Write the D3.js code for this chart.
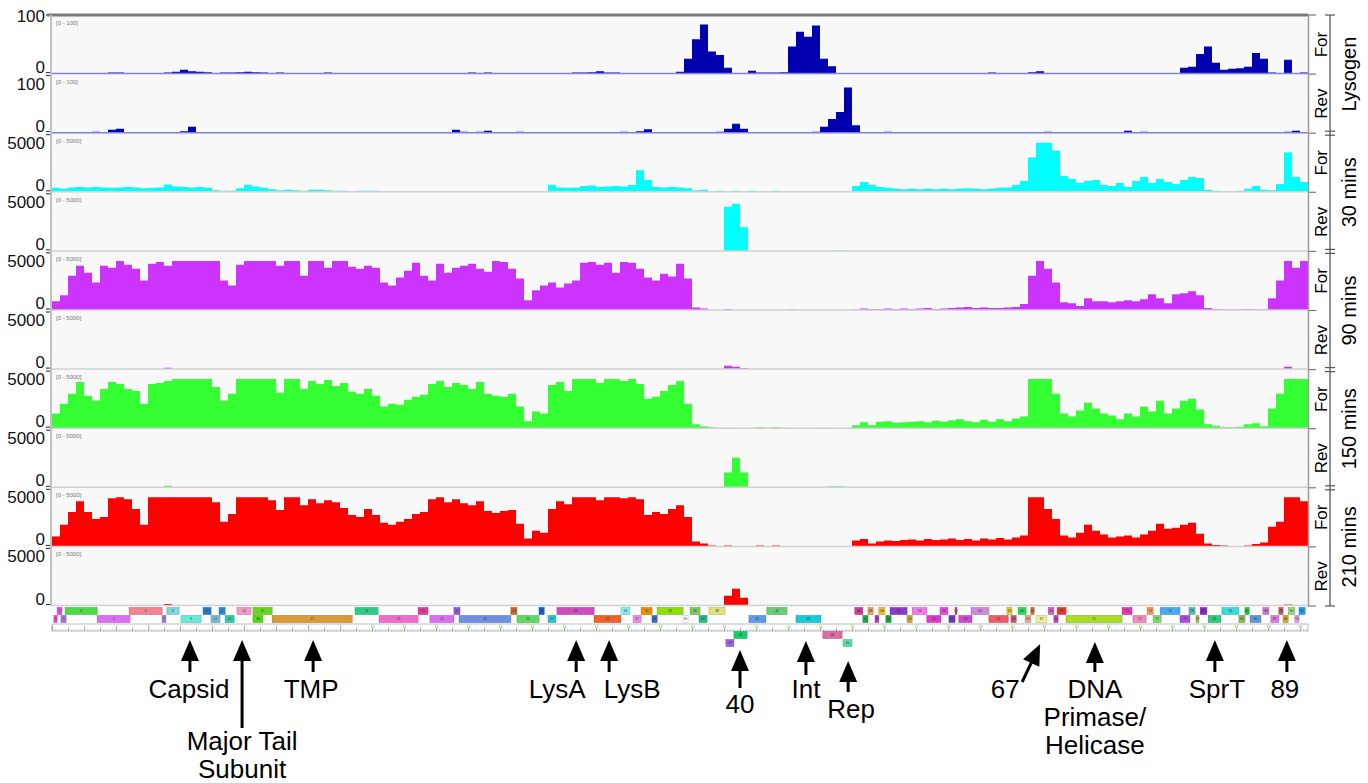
<!DOCTYPE html>
<html>
<head>
<meta charset="utf-8">
<script src="https://cdn.jsdelivr.net/npm/d3@7"></script>
<style>
  body { margin: 0; background: #ffffff; }
  svg { display: block; font-family: "Liberation Sans", Arial, sans-serif; }
</style>
</head>
<body>
<svg id="chart" width="1368" height="783"></svg>
<script>
// ---- data ----
const binKb = 0.25;      // coverage bin size
const genomeKb = 39.25;  // 157 bins

const trackStrand = ['For', 'Rev', 'For', 'Rev', 'For', 'Rev', 'For', 'Rev', 'For', 'Rev'];
const groupNames = ['Lysogen', '30 mins', '90 mins', '150 mins', '210 mins'];
const trackMax = [100, 100, 5000, 5000, 5000, 5000, 5000, 5000, 5000, 5000];

// sparse tracks: [bin, value]
const lysogenFor = [[5,1],[7,2],[8,2],[9,1],[12,1],[13,1],[14,2],[15,4],[16,8],[17,5],[18,4],[19,3],
  [21,2],[22,2],[23,3],[24,4],[25,3],[26,2],[28,2],[29,1],[30,1],[31,1],[33,1],[34,2],[35,1],
  [52,2],[53,1],[54,2],[55,1],[65,2],[66,2],[67,3],[68,5],[69,2],[70,2],[71,1],
  [78,4],[79,30],[80,70],[81,100],[82,45],[83,38],[84,12],[86,1],[87,6],[88,2],[89,2],[90,2],[91,3],
  [92,55],[93,85],[94,75],[95,98],[96,30],[97,15],[98,1],[99,1],[100,1],
  [116,1],[117,2],[118,1],[122,3],[123,5],[129,1],[135,1],
  [141,12],[142,14],[143,40],[144,55],[145,22],[146,8],[147,10],[148,11],[149,14],[150,42],[151,30],
  [152,2],[153,1],[154,28],[155,1],[156,2]];
const lysogenRev = [[5,2],[7,6],[8,8],[16,3],[17,12],[50,6],[51,2],[53,2],[54,4],[58,2],
  [71,2],[72,1],[73,3],[74,7],[83,2],[84,8],[85,18],[86,8],[93,1],[95,2],
  [96,12],[97,28],[98,42],[99,92],[100,15],[104,2],[124,2],[134,4],[136,2],[154,2],[155,4]];
const min30Rev = [[84,4500],[85,4800],[86,2400],[98,60]];
const min90Rev = [[14,150],[84,350],[85,250],[86,100],[154,250]];
const min150Rev = [[14,150],[84,1500],[85,3000],[86,1500],[97,100],[98,100]];
const min210Rev = [[14,150],[84,1000],[85,1700],[86,800],[154,100]];

// dense tracks: one value per bin
const min30For = [
  400,300,450,500,450,500,450,400,450,500, 450,350,400,450,750,550,500,450,500,400,
  150,100,100,350,700,550,400,250,150,200, 150,100,200,200,150,100,100,0,100,100,
  100,0,0,0,0,0,0,0,0,0, 0,0,0,0,0,0,0,0,0,0,
  0,0,700,450,400,450,600,650,500,550, 600,550,700,2200,1200,500,450,500,450,350,
  150,200,50,100,50,100,50,100,0,50, 100,50,0,50,0,0,0,0,0,0,
  600,1000,700,500,400,300,250,300,250,300, 250,300,250,300,350,300,250,300,400,450,
  700,1100,3500,5000,5000,4200,1600,1300,900,1100, 1200,700,600,900,500,1100,1500,900,1300,1000,
  800,1200,1500,1400,200,100,50,50,100,300, 600,200,150,800,4000,1500,1000];
const min90For = [
  900,1500,3500,4500,3800,2800,4500,4300,5000,4600, 4200,3000,4700,4900,4500,5000,5000,5000,5000,5000,
  5000,3000,2500,4600,5000,5000,5000,5000,4500,5000, 5000,3500,5000,5000,4300,5000,5000,4400,4200,4500,
  4300,2800,2500,3300,4000,4800,3500,3000,4700,3800, 4300,4500,4700,4200,3900,5000,4900,4200,3200,1000,
  2000,2500,2800,2300,2700,3000,4800,4900,4600,4800, 3800,4900,4800,4200,3300,3000,3700,3400,4700,3200,
  250,150,0,0,100,0,0,0,0,0, 0,0,50,0,0,0,0,0,0,0,
  50,150,100,100,150,100,150,100,150,200, 100,150,200,250,300,200,250,200,200,250,
  300,600,3500,5000,4200,2800,800,700,400,1200, 900,900,800,900,1000,900,1100,1600,1200,700,
  1600,1700,1900,1500,200,100,50,50,50,100, 50,50,1200,3000,5000,4300,5000];
const min150For = [
  1500,2500,3500,4700,3300,2800,4000,4700,4500,4000, 3800,2500,4500,4600,4800,5000,5000,5000,5000,5000,
  4200,2800,3500,5000,5000,5000,5000,5000,3600,5000, 5000,4000,4800,4500,4900,4300,4600,3700,3500,4000,
  3300,2200,2500,2400,2900,3200,3400,4500,4800,4200, 4600,4400,4000,4700,3500,3300,3200,3500,2200,700,
  1700,1500,4400,4700,3800,5000,5000,5000,4600,5000, 5000,4800,5000,4500,3000,3200,3800,4400,4800,2500,
  400,200,100,0,50,0,0,0,100,50, 100,50,0,0,0,0,50,0,0,0,
  300,600,300,650,700,550,600,650,700,600, 750,650,800,900,700,600,850,650,900,700,
  1000,1200,5000,5000,5000,3500,1500,1200,1800,2600, 2000,1500,1300,900,1500,1200,2200,1700,2800,1500,
  2000,2800,3000,1900,400,250,100,100,150,400, 500,200,2000,3500,5000,5000,5000];
const min210For = [
  1000,2200,3500,4600,3500,2800,3000,4900,5000,4800, 3800,2200,5000,5000,5000,5000,5000,5000,5000,5000,
  4500,2500,3300,5000,5000,5000,5000,4700,3700,5000, 5000,4200,4800,4400,4700,4500,3900,3200,3000,3800,
  3200,2400,2200,2500,2800,3300,3500,4800,5000,4500, 4800,4400,4200,4600,3600,3400,3600,3700,2300,800,
  1600,1400,3800,4600,4300,5000,5000,5000,4700,5000, 5000,4900,5000,4800,3200,3500,3300,3800,4200,3000,
  500,300,100,50,100,0,0,50,100,50, 100,0,50,0,0,0,0,0,0,0,
  600,750,300,500,600,550,650,700,600,750, 650,700,800,650,750,600,800,700,850,700,
  900,1100,5000,5000,3800,2800,1100,900,1400,2200, 1600,1200,900,1000,1100,900,1200,1600,2300,1800,
  1900,2200,2400,1300,300,150,100,50,50,100, 250,400,2000,2500,5000,5000,4600];

// genes: [start kb, end kb, row]  (row 2 is the ruler)
const genes = [
  [0.06,0.16,1],[0.16,0.31,0],[0.28,0.44,1],[0.41,1.41,0],[1.41,2.44,1],[2.41,3.44,0],[3.44,3.56,1],
  [3.59,3.97,0],[4.03,4.66,1],[4.72,4.97,0],[4.97,5.25,1],[5.22,5.41,0],[5.41,5.69,1],[5.78,6.22,0],
  [6.28,6.88,0],[6.28,6.59,1],[6.88,9.38,1],[9.47,10.19,0],[10.22,11.44,1],[11.44,11.75,0],
  [11.81,12.56,1],[12.56,12.75,0],[12.72,14.34,1],[14.34,14.53,0],[14.53,15.22,1],[15.22,15.38,0],
  [15.50,15.75,1],[15.78,16.94,0],[16.94,17.78,1],[17.78,18.06,0],[18.16,18.41,1],[18.41,18.75,0],
  [18.75,18.91,1],[18.91,19.72,0],[19.72,19.88,1],[19.94,20.25,0],[20.22,20.47,1],[20.53,21.03,0],
  [21.06,21.31,4],[21.31,21.72,3],[21.78,22.31,1],[22.34,22.97,0],[23.25,24.03,1],[24.09,24.69,3],
  [24.72,25.00,4],[25.09,25.34,0],[25.34,25.50,1],[25.50,25.66,0],[25.72,25.84,1],[25.84,26.03,0],
  [26.06,26.22,1],[26.19,26.72,0],[26.72,26.88,1],[26.88,27.34,0],[27.34,27.78,1],[27.75,28.00,0],
  [28.03,28.22,1],[28.22,28.28,0],[28.34,28.75,1],[28.72,29.28,0],[29.28,29.88,1],[29.84,30.00,0],
  [29.97,30.13,1],[30.19,30.44,0],[30.41,30.59,1],[30.59,30.69,0],[30.75,31.09,1],[31.13,31.31,0],
  [31.31,31.44,1],[31.41,31.69,0],[31.69,33.44,1],[33.44,33.75,0],[33.78,34.19,1],[34.22,34.41,0],
  [34.41,34.66,1],[34.63,35.25,0],[35.25,35.56,1],[35.53,35.72,0],[35.75,35.84,1],[35.88,36.09,0],
  [36.13,36.53,1],[36.56,37.09,0],[37.09,37.28,1],[37.28,37.41,0],[37.44,37.78,1],[37.84,38.03,0],
  [38.09,38.34,1],[38.34,38.47,0],[38.47,38.63,1],[38.63,38.84,0],[38.84,38.97,1],[38.97,39.16,0]];

const annoLabels = [['Capsid'], ['Major Tail', 'Subunit'], ['TMP'], ['LysA'], ['LysB'], ['40'],
  ['Int'], ['Rep'], ['67'], ['DNA', 'Primase/', 'Helicase'], ['SprT'], ['89']];
const annoKb = [4.31, 5.94, 8.16, 16.38, 17.41, 21.5, 23.56, 24.88, 30.88, 32.59, 36.34, 38.59];

// ---- styles / layout ----
const trackColors = ['#0000b0', '#0000b0', '#00ffff', '#00ffff', '#cc33ff', '#cc33ff',
  '#33ff33', '#33ff33', '#ff0000', '#ff0000'];
const geneColors = ['#d94fd9','#e050e0','#a77bd6','#4cd94c','#d96ef0','#f0838f','#a57ad0',
  '#7fd9d9','#6ce8dc','#2a78c8','#7bbad6','#2b8bdc','#2ecca6','#f29bc4','#6ad624','#55d915',
  '#d99a38','#2ecc8c','#f06ccc','#dd3b9b','#d96ef0','#9657d9','#6f8fe0','#c9692a','#5fd95f',
  '#1a5ad9','#2ac8cc','#cc4cc0','#f06028','#8ceaea','#ee8cee','#ee8a0a','#3a6ccc','#8ee00a',
  '#ffffff','#7ccc5c','#24bb88','#e0e07c','#9a66dd','#14cc6c','#5a9cf0','#6ccc7c','#14ccdc',
  '#dd6aa0','#5cdcaa','#cc3a9c','#24aa48','#ee9a5a','#bb3acc','#eebb2a','#14aa3a','#8a3acc',
  '#ccaa3a','#ee7aee','#dd3acc','#dd4add','#6a3acc','#cc4a7a','#cc4acc','#cc8ade','#ee5a6a',
  '#ddcc3a','#cc5a6a','#2add5a','#eeaa8a','#dd6a2a','#eeee9a','#cc6acc','#bb4abb','#dd3a3a',
  '#aadd2a','#dd3aaa','#ee8abb','#ee9a6a','#7add6a','#4aaaee','#aa4add','#5abbbb','#aabb4a',
  '#8a2acc','#2acc7a','#3adddd','#8abb5a','#1acc4a','#5a9add','#cc7acc','#dd7aee','#cc5a6a',
  '#ccaa2a','#9add7a','#dd9aee','#2a9aee'];
const annoTipY = [640, 640, 640, 640, 640, 650, 641, 661, 644, 642, 640, 640];
const annoTailY = [672, 728, 672, 672, 672, 688, 675, 692, 682, 672, 672, 672];
const annoTailDx = [0, 0, 0, 0, 0, 0, 0, 0, -18, 0, 0, 0];
const annoLabelY = [698, 750, 698, 698, 698, 713, 698, 718, 698, 698, 698, 698];
const annoLabelDx = [-1, 0, -2, -19, 23, 0, 0, 3, -35, 0, 2, -2];

const dense = pairs => {
  const arr = new Array(Math.round(genomeKb / binKb)).fill(0);
  for (const [i, v] of pairs) arr[i] = v;
  return arr;
};
const trackData = [dense(lysogenFor), dense(lysogenRev), min30For, dense(min30Rev),
  min90For, dense(min90Rev), min150For, dense(min150Rev), min210For, dense(min210Rev)];

const svg = d3.select('#chart');
const panel = { left: 52, right: 1308, top: 15, trackH: 59.1 };
const x = d3.scaleLinear().domain([0, genomeKb]).range([panel.left, panel.right]);
const bottomAll = panel.top + panel.trackH * trackData.length;

svg.append('rect')
  .attr('x', panel.left).attr('y', panel.top)
  .attr('width', panel.right - panel.left).attr('height', bottomAll - panel.top)
  .attr('fill', '#f8f8f8');

for (const [i, values] of trackData.entries()) {
  const top = panel.top + i * panel.trackH;
  const bottom = top + panel.trackH;
  const y = d3.scaleLinear().domain([0, trackMax[i]])
    .range([bottom - 0.5, top + 9.5]).clamp(true);

  // coverage as steps
  const pts = values.map((v, j) => [j * binKb, v]).concat([[values.length * binKb, 0]]);
  svg.append('path')
    .datum(pts)
    .attr('fill', trackColors[i])
    .attr('d', d3.area()
      .x(d => x(d[0]))
      .y0(bottom - 0.5)
      .y1(d => y(d[1]))
      .curve(d3.curveStepAfter));

  // baseline / separator
  svg.append('line')
    .attr('x1', panel.left).attr('x2', panel.right)
    .attr('y1', bottom - 0.5).attr('y2', bottom - 0.5)
    .attr('stroke', i < 2 ? '#8080e0' : '#d0d0d0')
    .attr('stroke-width', 1.5);

  svg.append('text')
    .attr('x', panel.left + 4).attr('y', top + 9.5)
    .attr('font-size', 6).attr('fill', '#777')
    .text(`[0 - ${trackMax[i]}]`);

  // left axis with two labels
  const ax = svg.append('g')
    .attr('transform', `translate(${panel.left},0)`)
    .call(d3.axisLeft(y).tickValues([0, trackMax[i]]).tickSize(0).tickPadding(7)
      .tickFormat(d3.format('d')));
  ax.select('.domain').remove();
  ax.selectAll('text')
    .attr('font-family', '"Liberation Sans", Arial, sans-serif')
    .attr('font-size', 17)
    .attr('fill', '#111')
    .attr('dy', 0)
    .each(function(d) {
      const t = d3.select(this);
      if (d === 0) t.attr('y', -1.5);
      else t.attr('y', i === 0 ? -3.5 : 5.5);
    });

  // boundary ticks "="
  const tickYs = [i === 0 ? top : top + 1.5, bottom - 1.5];
  for (const ty of tickYs) {
    svg.append('line')
      .attr('x1', 46).attr('x2', panel.left)
      .attr('y1', ty).attr('y2', ty)
      .attr('stroke', '#222').attr('stroke-width', 1);
  }
  svg.append('line')
    .attr('x1', panel.right).attr('x2', panel.right + 8)
    .attr('y1', bottom).attr('y2', bottom)
    .attr('stroke', '#777').attr('stroke-width', 1.2);

  svg.append('text')
    .attr('transform', `translate(1321,${(top + bottom) / 2}) rotate(-90)`)
    .attr('text-anchor', 'middle')
    .attr('dominant-baseline', 'central')
    .attr('font-size', 17)
    .text(trackStrand[i]);
}

// frame lines
svg.append('line')
  .attr('x1', 47).attr('x2', panel.right)
  .attr('y1', panel.top).attr('y2', panel.top)
  .attr('stroke', '#7a7a7a').attr('stroke-width', 3);
svg.append('line')
  .attr('x1', panel.left - 1).attr('x2', panel.left - 1)
  .attr('y1', panel.top).attr('y2', bottomAll)
  .attr('stroke', '#c0c0c0').attr('stroke-width', 2);
svg.append('line')
  .attr('x1', panel.right + 0.5).attr('x2', panel.right + 0.5)
  .attr('y1', panel.top).attr('y2', bottomAll)
  .attr('stroke', '#9a9a9a').attr('stroke-width', 1.5);
svg.append('line')
  .attr('x1', panel.right).attr('x2', panel.right + 8)
  .attr('y1', panel.top).attr('y2', panel.top)
  .attr('stroke', '#777').attr('stroke-width', 1.2);

// group brackets
const bx = 1330;
svg.append('line')
  .attr('x1', bx).attr('x2', bx)
  .attr('y1', panel.top).attr('y2', bottomAll)
  .attr('stroke', '#555').attr('stroke-width', 1.3);
for (const [g, name] of groupNames.entries()) {
  const gTop = panel.top + g * 2 * panel.trackH;
  const gBottom = gTop + 2 * panel.trackH;
  const ends = [g === 0 ? gTop : gTop + 2, g === groupNames.length - 1 ? gBottom : gBottom - 2];
  for (const ty of ends) {
    svg.append('line')
      .attr('x1', bx - 5).attr('x2', bx + 5)
      .attr('y1', ty).attr('y2', ty)
      .attr('stroke', '#555').attr('stroke-width', 1.2);
  }
  svg.append('text')
    .attr('transform', `translate(1349,${(gTop + gBottom) / 2}) rotate(-90)`)
    .attr('text-anchor', 'middle')
    .attr('dominant-baseline', 'central')
    .attr('font-size', 20)
    .text(name);
}

// gene track
const rowY = d3.scaleLinear().domain([0, 4]).range([607.5, 639.5]);
const ruler = svg.append('g');
ruler.append('rect')
  .attr('x', panel.left).attr('y', rowY(2) + 0.5)
  .attr('width', panel.right - panel.left).attr('height', 7)
  .attr('fill', '#ffffff').attr('stroke', '#aaa').attr('stroke-width', 0.8);
ruler.append('g')
  .attr('transform', `translate(0,${rowY(2) + 7.5})`)
  .call(d3.axisTop(x).tickValues(d3.range(0, genomeKb, 0.1)).tickSize(2).tickFormat(''))
  .call(g => g.select('.domain').remove())
  .call(g => g.selectAll('line').attr('stroke', '#999').attr('stroke-width', 0.5));
ruler.append('g')
  .attr('transform', `translate(0,${rowY(2) + 7.5})`)
  .call(d3.axisTop(x).tickValues(d3.range(0, genomeKb, 0.5)).tickSize(3.5).tickPadding(0)
    .tickFormat(d => Math.abs(d % 1) < 1e-6 ? d : ''))
  .call(g => g.select('.domain').remove())
  .call(g => g.selectAll('line').attr('stroke', '#777').attr('stroke-width', 0.6))
  .call(g => g.selectAll('text').attr('font-size', 3.5).attr('fill', '#55bb44'));

const geneG = svg.append('g').selectAll('g')
  .data(genes)
  .join('g');
geneG.append('rect')
  .attr('x', d => x(d[0]))
  .attr('y', d => rowY(d[2]))
  .attr('width', d => x(d[1]) - x(d[0]))
  .attr('height', 7)
  .attr('fill', (d, i) => geneColors[i])
  .attr('stroke', (d, i) => d3.color(geneColors[i]).darker(0.8))
  .attr('stroke-width', 0.5);
geneG.append('text')
  .attr('x', d => (x(d[0]) + x(d[1])) / 2)
  .attr('y', d => rowY(d[2]) + 4.8)
  .attr('text-anchor', 'middle')
  .attr('font-size', 3.2)
  .attr('fill', '#333')
  .text((d, i) => i + 1);

// arrows and labels
const head = { len: 21, half: 9 };
for (const [k, lines] of annoLabels.entries()) {
  const tx = x(annoKb[k]);
  const ty = annoTipY[k];
  const sx = tx + annoTailDx[k];
  const sy = annoTailY[k];
  const len = Math.hypot(tx - sx, ty - sy);
  const ux = (tx - sx) / len, uy = (ty - sy) / len;
  const bxh = tx - ux * head.len, byh = ty - uy * head.len;
  svg.append('line')
    .attr('x1', sx).attr('y1', sy).attr('x2', bxh + ux).attr('y2', byh + uy)
    .attr('stroke', '#000').attr('stroke-width', 3);
  svg.append('path')
    .attr('d', d3.line()([
      [tx, ty],
      [bxh - uy * head.half, byh + ux * head.half],
      [bxh + uy * head.half, byh - ux * head.half]
    ]) + 'Z')
    .attr('fill', '#000');
  const label = svg.append('text')
    .attr('x', tx + annoLabelDx[k])
    .attr('y', annoLabelY[k])
    .attr('text-anchor', 'middle')
    .attr('font-size', 26)
    .attr('fill', '#000');
  label.selectAll('tspan')
    .data(lines)
    .join('tspan')
    .attr('x', tx + annoLabelDx[k])
    .attr('dy', (d, j) => j === 0 ? 0 : 28)
    .text(d => d);
}
</script>
</body>
</html>
